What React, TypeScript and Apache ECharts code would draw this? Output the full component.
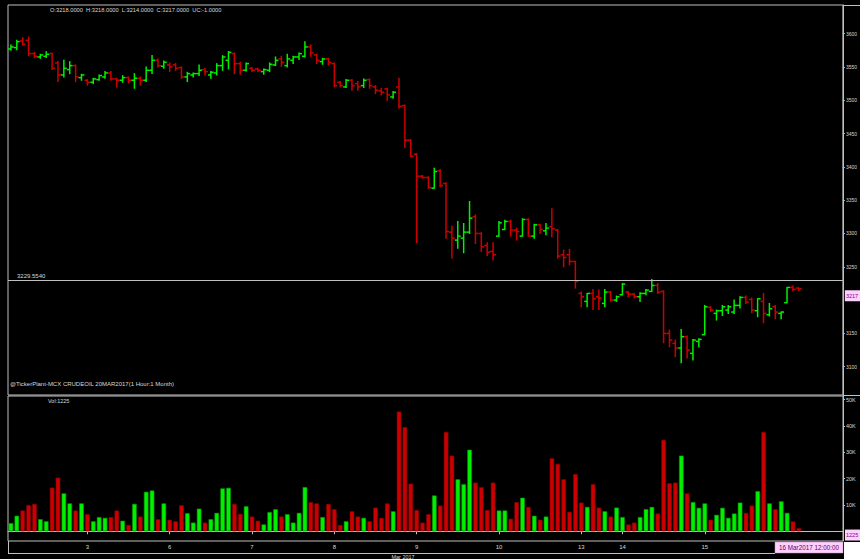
import React, { useEffect, useRef } from "react";
import * as echarts from "echarts";

// ---- categories (hourly bars, MCX CRUDEOIL 20MAR2017) ----
const dayNames = ["2", "3", "6", "7", "8", "9", "10", "13", "14", "15", "16"];
const dayBarCounts = [13, 14, 14, 14, 14, 14, 14, 7, 14, 14, 3];
const dayFirstHour = [11, 10, 10, 10, 10, 10, 10, 17, 10, 10, 10];
const padSlots = 7;

// ---- OHLC ----
const opens = [
  3577, 3579, 3589, 3590, 3570, 3565, 3566, 3570, 3556, 3538, 3546, 3552, 3534,
  3530, 3527, 3531, 3535, 3541, 3532, 3530, 3534, 3530, 3533, 3530, 3545, 3560, 3551,
  3553, 3553, 3549, 3535, 3538, 3540, 3546, 3538, 3541, 3552, 3560, 3570, 3555, 3545,
  3548, 3547, 3543, 3545, 3553, 3562, 3552, 3560, 3565, 3566, 3580, 3568, 3558, 3562,
  3555, 3527, 3520, 3530, 3525, 3522, 3531, 3520, 3514, 3517, 3505, 3520, 3492, 3440,
  3419, 3386, 3384, 3368, 3394, 3375, 3302, 3290, 3293, 3302, 3325, 3300, 3282, 3273,
  3296, 3306, 3318, 3305, 3296, 3321, 3296, 3313, 3304, 3310, 3305, 3268, 3268, 3258,
  3210, 3198, 3210, 3205, 3195, 3212, 3200,
  3208, 3212, 3209, 3205, 3210, 3213, 3222, 3213, 3150, 3135, 3128, 3145, 3120, 3138,
  3148, 3189, 3180, 3184, 3185, 3182, 3192, 3204, 3201, 3184, 3198, 3178, 3190, 3180,
  3196, 3219, 3218,
];
const highs = [
  3583, 3590, 3594, 3595, 3572, 3569, 3573, 3571, 3558, 3560, 3558, 3553, 3539,
  3531, 3533, 3538, 3543, 3543, 3533, 3537, 3535, 3540, 3535, 3550, 3567, 3562, 3559,
  3556, 3555, 3550, 3542, 3541, 3553, 3548, 3543, 3555, 3567, 3573, 3571, 3557, 3556,
  3549, 3548, 3547, 3556, 3565, 3566, 3569, 3566, 3571, 3588, 3583, 3569, 3563, 3563,
  3556, 3528, 3531, 3531, 3528, 3532, 3532, 3522, 3518, 3518, 3513, 3533, 3493, 3441,
  3420, 3387, 3385, 3398, 3396, 3376, 3311, 3318, 3315, 3348, 3328, 3301, 3286, 3286,
  3318, 3320, 3320, 3308, 3322, 3322, 3314, 3314, 3315, 3337, 3306, 3275, 3276, 3258,
  3212, 3210, 3216, 3215, 3216, 3213, 3206,
  3225, 3213, 3210, 3211, 3216, 3231, 3225, 3214, 3155, 3140, 3156, 3146, 3141, 3142,
  3192, 3190, 3185, 3192, 3192, 3200, 3205, 3206, 3203, 3202, 3210, 3195, 3192, 3182,
  3219, 3221, 3218,
];
const lows = [
  3575, 3576, 3583, 3567, 3564, 3563, 3564, 3546, 3528, 3535, 3540, 3528, 3530,
  3523, 3525, 3530, 3533, 3530, 3520, 3527, 3526, 3518, 3523, 3528, 3540, 3550, 3548,
  3543, 3545, 3533, 3528, 3535, 3537, 3538, 3533, 3538, 3545, 3547, 3540, 3539, 3544,
  3543, 3543, 3539, 3543, 3552, 3551, 3550, 3555, 3561, 3565, 3566, 3555, 3554, 3553,
  3520, 3520, 3519, 3515, 3515, 3519, 3518, 3510, 3508, 3500, 3503, 3488, 3429, 3415,
  3286, 3383, 3368, 3368, 3370, 3293, 3263, 3278, 3271, 3300, 3285, 3273, 3267, 3260,
  3296, 3306, 3296, 3290, 3296, 3296, 3293, 3300, 3298, 3295, 3263, 3250, 3253, 3218,
  3190, 3190, 3186, 3186, 3190, 3198, 3198,
  3208, 3205, 3203, 3198, 3208, 3213, 3210, 3136, 3130, 3115, 3106, 3113, 3110, 3130,
  3148, 3183, 3170, 3177, 3180, 3180, 3188, 3195, 3181, 3175, 3166, 3176, 3172, 3172,
  3196, 3214, 3214,
];
const closes = [
  3580, 3588, 3584, 3570, 3566, 3568, 3569, 3548, 3538, 3548, 3552, 3535, 3538,
  3527, 3532, 3537, 3541, 3532, 3530, 3534, 3530, 3533, 3530, 3545, 3560, 3552, 3557,
  3550, 3548, 3535, 3540, 3540, 3545, 3543, 3542, 3552, 3565, 3572, 3555, 3545, 3555,
  3545, 3545, 3546, 3554, 3560, 3557, 3562, 3565, 3570, 3580, 3571, 3560, 3562, 3557,
  3522, 3522, 3530, 3522, 3520, 3530, 3522, 3515, 3512, 3508, 3512, 3491, 3440, 3416,
  3386, 3384, 3369, 3393, 3372, 3303, 3293, 3296, 3302, 3323, 3300, 3280, 3272, 3268,
  3316, 3318, 3305, 3303, 3321, 3296, 3313, 3306, 3308, 3307, 3266, 3264, 3258, 3228,
  3205, 3210, 3202, 3203, 3212, 3200, 3205,
  3224, 3209, 3205, 3210, 3215, 3222, 3212, 3150, 3140, 3128, 3145, 3125, 3140, 3141,
  3190, 3185, 3184, 3190, 3190, 3192, 3204, 3197, 3185, 3202, 3180, 3187, 3182, 3182,
  3219, 3216, 3217,
];
// ---- volume ----
const volumes = [
  3100, 5900, 7900, 10000, 10400, 4600, 3800, 16600, 20400, 14400, 10600, 7900, 10600,
  6500, 3800, 5400, 5100, 5400, 7900, 4000, 2400, 10400, 5600, 15000, 15500, 4600, 10600,
  4400, 3800, 9900, 6900, 3300, 8600, 3300, 4600, 7000, 16300, 16500, 10400, 6600, 9500,
  5600, 4000, 2600, 7300, 8400, 5600, 6500, 3300, 7000, 16800, 11100, 10600, 5400, 10400,
  8400, 2400, 3800, 7600, 5600, 5100, 3800, 9000, 5100, 10600, 7600, 45500, 39600, 18100,
  8100, 3300, 6500, 13600, 9750, 37750, 28750, 19750, 17900, 31000, 18500, 16750, 8100, 18500,
  7900, 7900, 4750, 11100, 12750, 9250, 5900, 4400, 5600, 27750, 25600, 19750, 7400, 21750,
  10900, 9250, 17900, 9000, 7600, 5600, 9000,
  5400, 2600, 3300, 5400, 8400, 9250, 6750, 34750, 18250, 18500, 28750, 14400, 11100, 8900,
  10600, 4400, 6250, 8900, 5100, 6750, 10900, 7000, 9750, 15250, 37750, 10600, 8400, 11400,
  7000, 3750, 1225,
];

const priceTicks = [3100, 3150, 3250, 3300, 3350, 3400, 3450, 3500, 3550, 3600];
const volumeTicks = [10000, 20000, 30000, 40000, 50000];
const refLevel = 3229.554;
const lastVolume = 1225;
const headerText = "O:3218.0000  H:3218.0000  L:3214.0000  C:3217.0000  UC:-1.0000";
const footerText = "@TickerPlant-MCX CRUDEOIL 20MAR2017(1 Hour:1 Month)";
const cursorText = "16 Mar2017 12:00:00";
const monthText = "Mar 2017";

const GREEN = "#00f000";
const RED = "#cc0000";
const GRID_LINE = "#c0c0c0";
const TEXT = "#d8d8d8";
const FONT = "Liberation Sans, Arial, sans-serif";
const HIDDEN_LINE = { color: "rgba(0,0,0,0)", width: 0 };

export default function App() {
  const ref = useRef<HTMLDivElement>(null);

  useEffect(() => {
    document.body.style.margin = "0";
    document.body.style.background = "#000";
    if (!ref.current) return;
    const chart = echarts.init(ref.current, null, { renderer: "svg" });

    const categories: string[] = [];
    const dayStart: number[] = [];
    dayNames.forEach((d, k) => {
      dayStart.push(categories.length);
      for (let h = 0; h < dayBarCounts[k]; h++) {
        categories.push(d + " Mar 2017 " + (dayFirstHour[k] + h) + ":00");
      }
    });
    for (let p = 0; p < padSlots; p++) categories.push("slot" + p);
    const labelIdx = new Set(dayStart.slice(1, dayStart.length - 1));

    const ohlc = opens.map((o, i) => [i, o, closes[i], lows[i], highs[i]]);
    const lastClose = closes[closes.length - 1];

    const pinkLabel = (text: string) => ({
      show: true, position: "end", formatter: text,
      color: "#800080", backgroundColor: "#ffd0ff", fontSize: 5.5, fontFamily: FONT,
      padding: [3, 2, 2, 1], distance: 2, offset: [0, 7],
    });

    const option: any = {
      animation: false,
      backgroundColor: "#000",
      grid: [
        { left: 8, top: 5, width: 835, height: 390, show: true, borderColor: GRID_LINE, borderWidth: 1, backgroundColor: "#000" },
        { left: 8, top: 396, width: 835, height: 145, show: true, borderColor: GRID_LINE, borderWidth: 1, backgroundColor: "#000" },
      ],
      xAxis: [
        {
          type: "category", gridIndex: 0, data: categories, boundaryGap: true,
          axisLine: { show: false }, axisTick: { show: false }, axisLabel: { show: false }, splitLine: { show: false },
        },
        {
          type: "category", gridIndex: 1, data: categories, boundaryGap: true,
          axisLine: { show: true, lineStyle: { color: GRID_LINE } },
          axisTick: { show: true, alignWithLabel: true, length: 3, interval: (idx: number) => labelIdx.has(idx), lineStyle: { color: GRID_LINE } },
          axisLabel: {
            show: true, interval: (idx: number) => labelIdx.has(idx),
            formatter: (v: string) => v.split(" ")[0],
            color: TEXT, fontSize: 6, fontFamily: FONT, margin: 3,
          },
          splitLine: { show: false },
        },
      ],
      yAxis: [
        {
          type: "value", gridIndex: 0, position: "right", min: 3057.5, max: 3643,
          splitLine: { show: false },
          axisLine: { show: true, lineStyle: { color: GRID_LINE } },
          axisTick: { show: true, length: 2, customValues: priceTicks, lineStyle: { color: GRID_LINE } },
          axisLabel: {
            show: true, customValues: priceTicks, fontSize: 5, color: TEXT, fontFamily: FONT, margin: 3,
            formatter: (v: number) => String(v),
          },
        },
        {
          type: "value", gridIndex: 1, position: "right", min: -3700, max: 51400,
          splitLine: { show: false },
          axisLine: { show: true, lineStyle: { color: GRID_LINE } },
          axisTick: { show: true, length: 2, customValues: volumeTicks, lineStyle: { color: GRID_LINE } },
          axisLabel: {
            show: true, customValues: volumeTicks, fontSize: 5.5, color: TEXT, fontFamily: FONT, margin: 3,
            formatter: (v: number) => v / 1000 + "K",
          },
        },
      ],
      series: [
        {
          type: "custom", name: "OHLC", xAxisIndex: 0, yAxisIndex: 0,
          data: ohlc,
          encode: { x: 0, y: [1, 2, 3, 4] },
          renderItem: (_params: any, api: any) => {
            const i = api.value(0);
            const o = api.value(1);
            const c = api.value(2);
            const l = api.value(3);
            const h = api.value(4);
            const pH = api.coord([i, h]);
            const pL = api.coord([i, l]);
            const pO = api.coord([i, o]);
            const pC = api.coord([i, c]);
            const color = c >= o ? GREEN : RED;
            const tick = 2.9;
            const st = { stroke: color, lineWidth: 1.5 };
            return {
              type: "group",
              children: [
                { type: "line", shape: { x1: pH[0], y1: pH[1] - 0.5, x2: pL[0], y2: pL[1] + 0.5 }, style: st },
                { type: "line", shape: { x1: pO[0] - tick, y1: pO[1], x2: pO[0], y2: pO[1] }, style: st },
                { type: "line", shape: { x1: pC[0], y1: pC[1], x2: pC[0] + tick, y2: pC[1] }, style: st },
              ],
            };
          },
        },
        {
          type: "line", name: "levels", xAxisIndex: 0, yAxisIndex: 0, data: [],
          markLine: {
            silent: true, symbol: "none",
            data: [
              {
                yAxis: refLevel,
                lineStyle: { color: GRID_LINE, width: 1, type: "solid" },
                label: {
                  show: true, position: "insideStartTop", formatter: refLevel.toFixed(4),
                  color: TEXT, fontSize: 6, fontFamily: FONT, distance: [9, 1],
                },
              },
              {
                yAxis: lastClose,
                lineStyle: HIDDEN_LINE,
                label: pinkLabel(String(lastClose)),
              },
            ],
          },
        },
        {
          type: "bar", name: "Vol", xAxisIndex: 1, yAxisIndex: 1,
          barWidth: 4.6,
          data: volumes.map((v, i) => {
            const up = closes[i] >= opens[i];
            return {
              value: v,
              itemStyle: { color: up ? GREEN : RED, borderColor: up ? "#009000" : "#7a0000", borderWidth: 0.6 },
            };
          }),
          markLine: {
            silent: true, symbol: "none",
            data: [
              {
                yAxis: lastVolume,
                lineStyle: HIDDEN_LINE,
                label: pinkLabel(String(lastVolume)),
              },
            ],
          },
        },
      ],
      graphic: [
        { type: "line", shape: { x1: 843, y1: 5.5, x2: 860, y2: 5.5 }, style: { stroke: GRID_LINE, lineWidth: 1 } },
        { type: "line", shape: { x1: 843, y1: 395.5, x2: 860, y2: 395.5 }, style: { stroke: GRID_LINE, lineWidth: 1 } },
        { type: "line", shape: { x1: 8.5, y1: 541, x2: 8.5, y2: 553 }, style: { stroke: GRID_LINE, lineWidth: 1 } },
        { type: "line", shape: { x1: 8, y1: 553.5, x2: 775, y2: 553.5 }, style: { stroke: GRID_LINE, lineWidth: 1 } },
        { type: "rect", shape: { x: 844, y: 542, width: 16, height: 17 }, style: { fill: "#ffffff" } },
        { type: "rect", shape: { x: 775, y: 542, width: 68, height: 11 }, style: { fill: "#ffd0ff", stroke: "#c090c0", lineWidth: 0.5 } },
        {
          type: "text", x: 809, y: 547.5,
          style: { text: cursorText, fill: "#600060", fontSize: 6.3, fontFamily: FONT, align: "center", verticalAlign: "middle" },
        },
        {
          type: "text", x: 50, y: 10,
          style: { text: headerText, fill: TEXT, fontSize: 5.7, fontFamily: FONT, verticalAlign: "middle" },
        },
        {
          type: "text", x: 10, y: 384,
          style: { text: footerText, fill: TEXT, fontSize: 6, fontFamily: FONT, verticalAlign: "middle" },
        },
        {
          type: "text", x: 48, y: 401,
          style: { text: "Vol:" + lastVolume, fill: TEXT, fontSize: 5.5, fontFamily: FONT, verticalAlign: "middle" },
        },
        {
          type: "text", x: 403, y: 557,
          style: { text: monthText, fill: TEXT, fontSize: 5.5, fontFamily: FONT, align: "center", verticalAlign: "middle" },
        },
      ],
    };

    chart.setOption(option);
    return () => chart.dispose();
  }, []);

  return <div ref={ref} style={{ width: 860, height: 559, background: "#000" }} />;
}
